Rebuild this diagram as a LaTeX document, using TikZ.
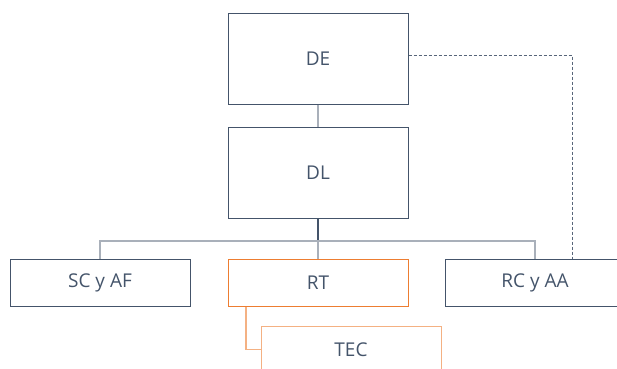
\documentclass[tikz,border=0pt]{standalone}
\usepackage{fontspec}
\setmainfont{Open Sans}
\definecolor{pizarra}{HTML}{44546A}
\definecolor{naranja}{HTML}{ED7D31}
\definecolor{naranjaclaro}{HTML}{F4B183}
\definecolor{gris}{HTML}{A9B0BA}
\tikzset{
  caja/.style={draw=pizarra, line width=1pt, minimum width=180pt, minimum height=91pt,
               inner sep=0pt, text=pizarra, font=\fontsize{19}{22}\selectfont},
  cajita/.style={caja, minimum height=47pt},
  linea/.style={draw=gris, line width=1.2pt},
}
\begin{document}
\begin{tikzpicture}[x=1pt,y=-1pt]
\useasboundingbox (0,0) rectangle (617,368);
\clip (0,0) rectangle (617,368);
% direccion
\node[caja] (de) at (318,58.5) {DE};
\node[caja] (dl) at (318,173) {DL};
% areas
\node[cajita] (scaf) at (100,282.5) {SC y AF};
\node[cajita, draw=naranja] (rt) at (318,282.5) {RT};
\node[cajita] (rcaa) at (535,282.5) {RC y AA};
\node[cajita, draw=naranjaclaro] (tec) at (351,349.5) {TEC};
\coordinate (bus) at (318,241);
\coordinate (ret) at (572,259);
% conectores
\draw[linea] (de) -- (dl);
\draw[line width=1.2pt, draw=pizarra] (dl) -- (bus);
\draw[linea] (scaf.north) |- (bus) -| (rcaa.north);
\draw[linea] (bus) -- (rt);
\draw[draw=pizarra!80!gris, line width=1pt, dash pattern=on 3pt off 2pt]
  ([yshift=3.5pt]de.east) -| (ret);
\draw[naranjaclaro, line width=1.2pt] ([xshift=-72pt]rt.south) |- (tec.west);
\end{tikzpicture}
\end{document}
